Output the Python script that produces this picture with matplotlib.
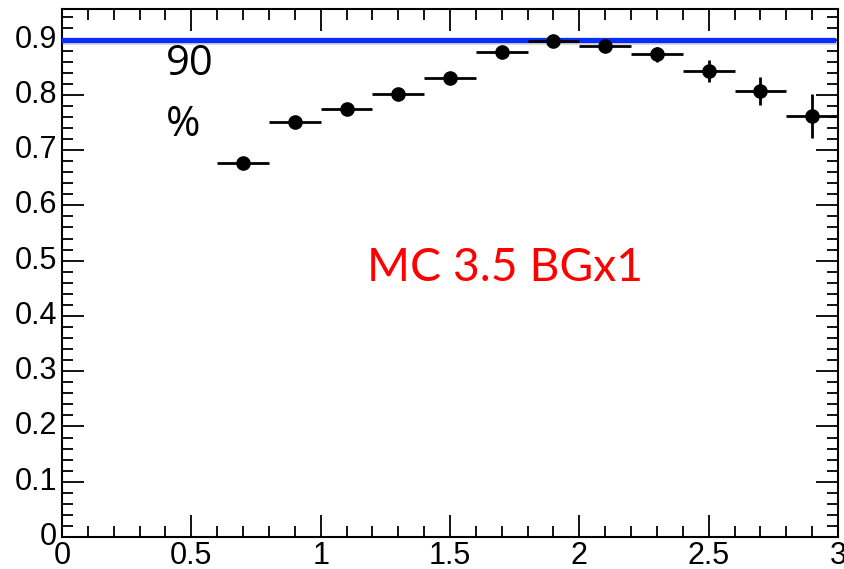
import matplotlib.pyplot as plt
from matplotlib.ticker import MultipleLocator

x = [0.7, 0.9, 1.1, 1.3, 1.5, 1.7, 1.9, 2.1, 2.3, 2.5, 2.7, 2.9]
eff = [0.676, 0.750, 0.775, 0.801, 0.831, 0.877, 0.898, 0.889, 0.873, 0.843, 0.807, 0.761]
yerr = [0.004, 0.004, 0.004, 0.004, 0.005, 0.006, 0.007, 0.009, 0.014, 0.020, 0.026, 0.040]
xerr = [0.1] * len(x)
target = 0.9

fig = plt.figure(figsize=(8.45, 5.69), dpi=100)
ax = fig.add_axes([0.0734, 0.0562, 0.9183, 0.9278])

# faint shadow under the target line
ax.axhline(target - 0.006, xmin=0.003, xmax=0.996, color='#999999', lw=3, alpha=0.35, zorder=2)
ax.axhline(target, xmin=0, xmax=0.993, color='#0a2cff', lw=3.8, zorder=3)
ax.errorbar(x, eff, xerr=xerr, yerr=yerr, fmt='o', color='black', ms=9.5,
            elinewidth=2, capsize=0, zorder=4)

ax.text(0.4, 0.855, '90', fontsize=30, family='Open Sans', va='center')
ax.text(0.4, 0.745, '%', fontsize=30, family='Open Sans', va='center')
ax.text(1.18, 0.463, 'MC 3.5 BGx1', fontsize=33.3, family='Lato', color='#ff0000')

ax.set_xlim(0, 3)
ax.set_ylim(0, 0.955)
ax.xaxis.set_major_locator(MultipleLocator(0.5))
ax.xaxis.set_minor_locator(MultipleLocator(0.1))
ax.yaxis.set_major_locator(MultipleLocator(0.1))
ax.yaxis.set_minor_locator(MultipleLocator(0.02))
ax.set_xticklabels([])
ax.set_yticklabels([])
for v in [0, 0.5, 1, 1.5, 2, 2.5, 3]:
    ax.text(v, -0.008, ('%g' % v), ha='center', va='top', fontsize=22,
            family='Liberation Sans', clip_on=False)
for v in range(10):
    ax.text(-0.02, v / 10, ('%g' % (v / 10)), ha='right', va='center',
            fontsize=22, family='Liberation Sans', clip_on=False)
ax.tick_params(which='both', direction='in', top=True, right=True, width=1.3)
ax.tick_params(which='major', length=16)
ax.tick_params(which='minor', length=8)
for s in ax.spines.values():
    s.set_linewidth(1.5)

fig.savefig('out.png', dpi=100)
